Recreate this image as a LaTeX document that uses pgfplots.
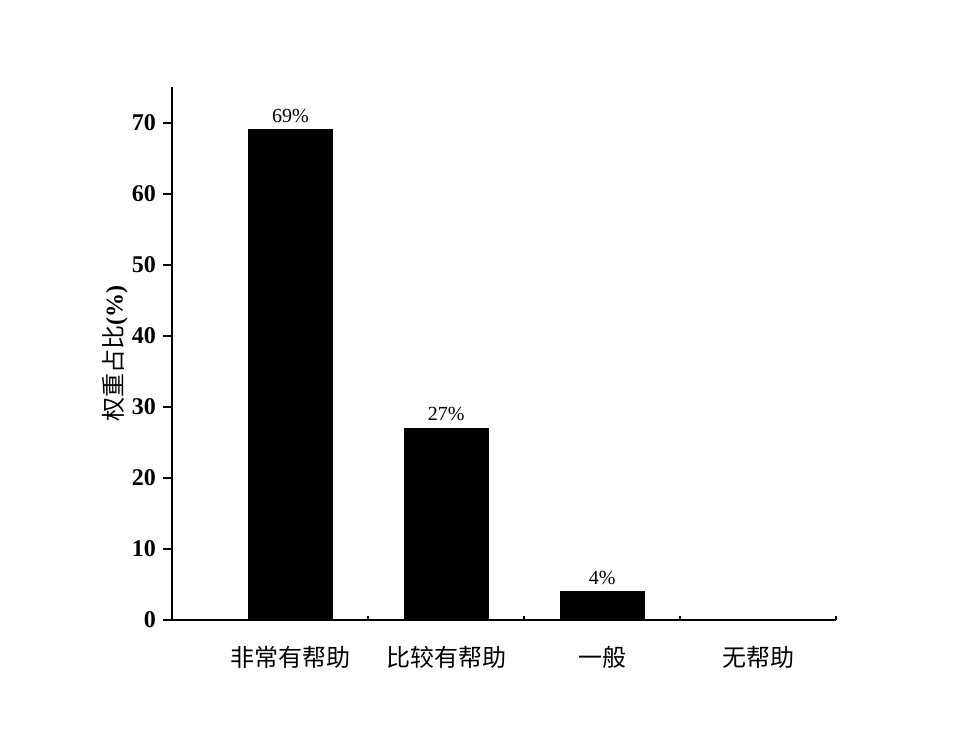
\documentclass[border=0pt]{standalone}
\usepackage{pgfplots}
\pgfplotsset{compat=1.18}
\usepackage{fontspec}
\setmainfont{Liberation Serif}
\newfontfamily\cjk{Noto Sans CJK SC}
\begin{document}
\begin{tikzpicture}
\path[use as bounding box] (-86pt,-62pt) rectangle (399.5pt,310pt);
\begin{axis}[
  at={(0,0)}, anchor=south west,
  scale only axis, width=332pt, height=266.5pt,
  xmin=0.24, xmax=4.5, ymin=0, ymax=75,
  axis x line*=bottom, axis y line*=left,
  axis line style={line width=1pt},
  ybar, bar width=42pt,
  xtick={1,2,3,4},
  xticklabels={非常有帮助,比较有帮助,一般,无帮助},
  every major x tick/.append style={draw=none},
  minor xtick={1.5,2.5,3.5,4.5},
  every minor x tick/.append style={line width=1pt, black, yshift=2pt},
  minor tick length=2pt,
  tick align=outside,
  major tick length=4.5pt,
  ytick={0,10,...,70},
  every major y tick/.append style={line width=1pt, black},
  /pgf/number format/assume math mode=true,
  yticklabel style={font=\bfseries\fontsize{12}{14}\selectfont},
  xticklabel style={font=\cjk\fontsize{12}{14}\selectfont, yshift=-5pt},
  ylabel={{\cjk 权重占比}\textbf{(\%)}},
  every axis y label/.style={at={(axis description cs:-0.0858,0.5)}, rotate=90, anchor=center, font=\fontsize{12}{14}\selectfont},
  nodes near coords={\pgfmathprintnumber{\pgfplotspointmeta}\%},
  every node near coord/.append style={font=\fontsize{10}{12}\selectfont, black},
]
\addplot[fill=black, draw=black] coordinates {(1,69) (2,27) (3,4)};
\end{axis}
\end{tikzpicture}
\end{document}
